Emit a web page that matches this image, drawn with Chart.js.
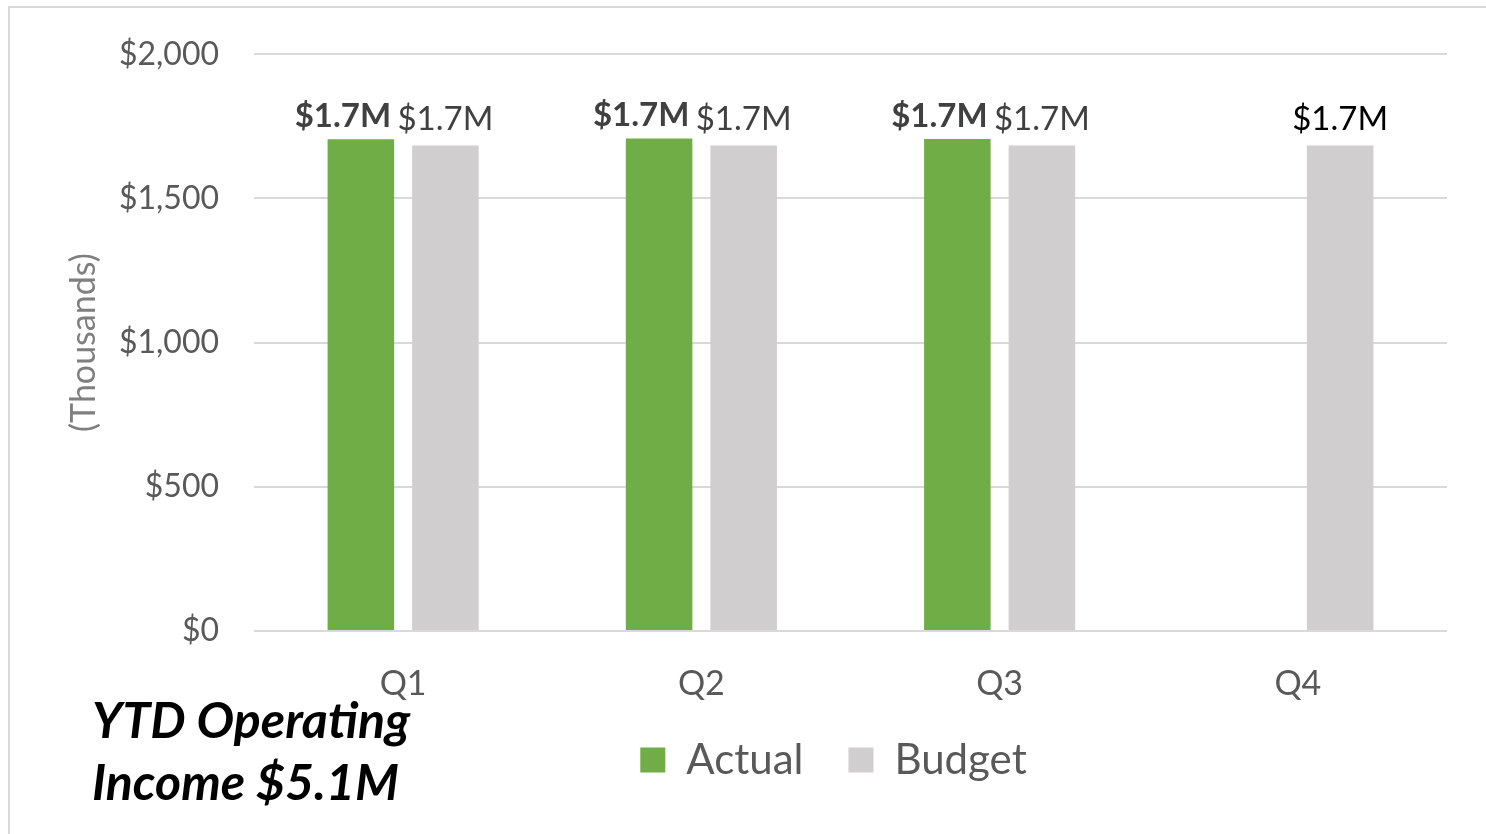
<!DOCTYPE html>
<html lang="en">
<head>
  <meta charset="UTF-8" />
  <title>YTD Operating Income</title>
  <script src="https://cdn.jsdelivr.net/npm/chart.js"></script>
  <style>
    body {
      margin: 0;
      background: #ffffff;
      font-family: 'Lato', sans-serif;
    }

    .frame {
      position: absolute;
      left: 8px;
      top: 6px;
      width: 1490px;
      height: 840px;
      border-top: 2px solid #d9d9d9;
      border-left: 2px solid #d9d9d9;
    }

    #chart {
      position: absolute;
      left: 0;
      top: 0;
    }

    .ytd-title {
      position: absolute;
      left: 92px;
      top: 688px;
      font-family: 'Lato', sans-serif;
      font-weight: 700;
      font-style: italic;
      font-size: 50px;
      line-height: 62px;
      color: #000000;
    }
  </style>
</head>
<body>

<div class="frame"></div>
<canvas id="chart" width="1486" height="834"></canvas>
<div class="ytd-title">YTD Operating<br>Income $5.1M</div>

<script>
  // values in thousands of dollars
  const quarters = ['Q1', 'Q2', 'Q3', 'Q4'];
  const actual = [1705, 1708, 1706, null];
  const budget = [1683, 1683, 1683, 1683];
  const yTicks = [0, 500, 1000, 1500, 2000];

  const GREEN = '#70AD47';
  const GREY = '#D0CECE';
  const TEXT = '#595959';

  // draws the $1.7M labels over the bars
  const barLabels = {
    id: 'barLabels',
    afterDatasetsDraw(chart) {
      const ctx = chart.ctx;
      ctx.save();
      ctx.textAlign = 'center';
      ctx.textBaseline = 'alphabetic';
      chart.data.datasets.forEach((ds, i) => {
        const meta = chart.getDatasetMeta(i);
        meta.data.forEach((bar, j) => {
          const v = ds.data[j];
          if (v == null) return;
          const txt = '$' + (v / 1000).toFixed(1) + 'M';
          if (i === 0) {
            ctx.font = 'bold 33px Lato';
            ctx.fillStyle = '#404040';
            ctx.fillText(txt, bar.x - 18, bar.y - 12);
          } else {
            ctx.font = '33px Lato';
            ctx.fillStyle = j === 3 ? '#000000' : '#404040';
            ctx.fillText(txt, bar.x, bar.y - 16);
          }
        });
      });
      ctx.restore();
    }
  };

  // legend sits a bit left of the plot centre and close under the axis labels
  const legendShift = {
    id: 'legendShift',
    afterLayout(chart) {
      const lg = chart.legend;
      lg.left -= 17;
      lg.right -= 17;
      lg.top -= 31;
      lg.bottom -= 31;
    }
  };

  new Chart(document.getElementById('chart'), {
    type: 'bar',
    data: {
      labels: quarters,
      datasets: [
        {
          label: 'Actual',
          data: actual,
          backgroundColor: GREEN,
          categoryPercentage: 0.567,
          barPercentage: 0.787
        },
        {
          label: 'Budget',
          data: budget,
          backgroundColor: GREY,
          categoryPercentage: 0.567,
          barPercentage: 0.787
        }
      ]
    },
    options: {
      responsive: false,
      animation: false,
      devicePixelRatio: 1,
      layout: {
        padding: { left: 0, top: 36, right: 39, bottom: 12 }
      },
      plugins: {
        legend: {
          position: 'bottom',
          fullSize: false,
          labels: {
            boxWidth: 25,
            boxHeight: 25,
            padding: 45,
            color: TEXT,
            font: { family: 'Lato', size: 42 }
          }
        },
        tooltip: { enabled: false }
      },
      scales: {
        x: {
          grid: { display: false, drawTicks: false },
          border: { display: false },
          ticks: {
            color: TEXT,
            padding: 33,
            font: { family: 'Lato', size: 34 }
          },
          afterFit(scale) { scale.height = 94; }
        },
        y: {
          min: 0,
          max: 2000,
          afterBuildTicks(scale) {
            scale.ticks = yTicks.map(v => ({ value: v }));
          },
          grid: { color: '#D9D9D9', lineWidth: 2, drawTicks: false },
          border: { display: false },
          ticks: {
            color: TEXT,
            padding: 35,
            font: { family: 'Lato', size: 32 },
            callback: v => '$' + v.toLocaleString('en-US')
          },
          title: {
            display: true,
            text: '(Thousands)',
            color: '#7F7F7F',
            padding: { top: 64, bottom: 0 },
            font: { family: 'Lato', size: 34 }
          },
          afterFit(scale) { scale.width = 254; }
        }
      }
    },
    plugins: [barLabels, legendShift]
  });
</script>

</body>
</html>
